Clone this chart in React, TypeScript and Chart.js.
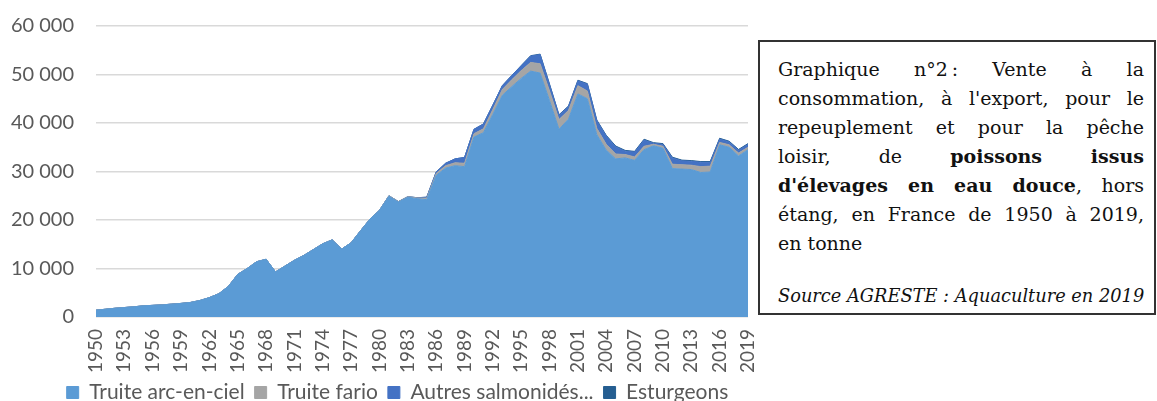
import React, { useEffect, useRef } from "react";
import { Chart, registerables } from "chart.js";

Chart.register(...registerables);

const years = [
  "1950", "1951", "1952", "1953", "1954", "1955", "1956", "1957", "1958", "1959",
  "1960", "1961", "1962", "1963", "1964", "1965", "1966", "1967", "1968", "1969",
  "1970", "1971", "1972", "1973", "1974", "1975", "1976", "1977", "1978", "1979",
  "1980", "1981", "1982", "1983", "1984", "1985", "1986", "1987", "1988", "1989",
  "1990", "1991", "1992", "1993", "1994", "1995", "1996", "1997", "1998", "1999",
  "2000", "2001", "2002", "2003", "2004", "2005", "2006", "2007", "2008", "2009",
  "2010", "2011", "2012", "2013", "2014", "2015", "2016", "2017", "2018", "2019",
];

const shownYears = [
  "1950", "1953", "1956", "1959", "1962", "1965", "1968", "1971", "1974", "1977",
  "1980", "1983", "1986", "1989", "1992", "1995", "1998", "2001", "2004", "2007",
  "2010", "2013", "2016", "2019",
];

const truiteArcEnCiel = [
  1400, 1600, 1800, 1950, 2100, 2300, 2400, 2500, 2650, 2800,
  3000, 3400, 4000, 4800, 6300, 8800, 10000, 11400, 11900, 9300,
  10500, 11700, 12700, 13900, 15100, 15900, 14000, 15300, 17800, 20200,
  22000, 24900, 23700, 24700, 24400, 24200, 29200, 30700, 31200, 31000,
  37100, 38000, 41800, 45700, 47500, 49200, 50700, 50300, 44600, 38700,
  40800, 46000, 45000, 37600, 34400, 32600, 32800, 32300, 34500, 35300,
  34800, 30600, 30500, 30400, 29800, 29900, 35500, 35000, 33200, 34500,
];

const truiteFario = [
  0, 0, 0, 0, 0, 0, 0, 0, 0, 0,
  0, 0, 0, 0, 0, 0, 0, 0, 0, 0,
  0, 0, 0, 0, 0, 0, 0, 0, 0, 0,
  0, 100, 100, 100, 150, 300, 400, 500, 600, 700,
  700, 800, 1000, 1200, 1400, 1600, 1800, 1900, 2000, 2000,
  1800, 1700, 1600, 1300, 1200, 1000, 700, 700, 700, 300,
  400, 900, 900, 900, 1200, 1200, 500, 500, 600, 500,
];

const autresSalmonides = [
  0, 0, 0, 0, 0, 0, 0, 0, 0, 0,
  0, 0, 0, 0, 0, 0, 0, 0, 0, 0,
  0, 0, 0, 0, 0, 0, 0, 0, 0, 0,
  0, 0, 0, 0, 50, 200, 300, 500, 800, 1200,
  900, 1000, 900, 800, 900, 1000, 1300, 1900, 1300, 900,
  800, 1000, 1400, 1600, 1700, 1500, 700, 1000, 1300, 200,
  400, 1300, 800, 800, 900, 800, 700, 600, 600, 600,
];

const esturgeons = [
  0, 0, 0, 0, 0, 0, 0, 0, 0, 0,
  0, 0, 0, 0, 0, 0, 0, 0, 0, 0,
  0, 0, 0, 0, 0, 0, 0, 0, 0, 0,
  0, 0, 0, 0, 0, 0, 0, 0, 0, 0,
  0, 0, 0, 0, 0, 50, 80, 100, 100, 100,
  100, 120, 120, 120, 150, 150, 150, 150, 150, 150,
  150, 150, 150, 150, 150, 150, 150, 150, 150, 150,
];

const seriesLabels = ["Truite arc-en-ciel", "Truite fario", "Autres salmonidés...", "Esturgeons"];
const seriesColors = ["#5B9BD5", "#A5A5A5", "#4472C4", "#255E91"];

const yMin = 0;
const yMax = 60000;
const yStep = 10000;

function formatThousands(v: number): string {
  return String(v).replace(/\B(?=(\d{3})+(?!\d))/g, " ");
}

function ChartView() {
  const ref = useRef<HTMLCanvasElement | null>(null);
  useEffect(() => {
    if (!ref.current) return;
    const series = [truiteArcEnCiel, truiteFario, autresSalmonides, esturgeons];
    const chart = new Chart(ref.current, {
      type: "line",
      data: {
        labels: years,
        datasets: series.map((d, i) => ({
          label: seriesLabels[i],
          data: d,
          backgroundColor: seriesColors[i],
          borderColor: seriesColors[i],
          borderWidth: 1,
          pointRadius: 0,
          tension: 0,
          fill: i === 0 ? "origin" : "-1",
        })),
      },
      options: {
        animation: false,
        responsive: false,
        maintainAspectRatio: false,
        layout: { padding: { top: 26, left: 0, right: 0, bottom: 0 } },
        plugins: {
          tooltip: { enabled: false },
          legend: {
            position: "bottom",
            labels: {
              boxWidth: 12,
              boxHeight: 12,
              padding: 10,
              color: "#595959",
              font: { family: "Lato", size: 21 },
            },
          },
        },
        scales: {
          x: {
            grid: { display: false, drawTicks: false },
            border: { display: false },
            ticks: {
              autoSkip: false,
              maxRotation: 90,
              minRotation: 90,
              padding: 12,
              color: "#595959",
              font: { family: "Lato", size: 19 },
              callback: function (this: any, value: any, index: number) {
                const lab = years[index];
                return shownYears.includes(lab) ? lab : "";
              },
            },
            afterFit: (s: any) => {
              s.height = 55;
            },
          },
          y: {
            stacked: true,
            min: yMin,
            max: yMax,
            grid: { color: "#D9D9D9", lineWidth: 1.5, drawTicks: false },
            border: { display: false },
            ticks: {
              stepSize: yStep,
              padding: 22,
              color: "#595959",
              font: { family: "Lato", size: 20 },
              callback: (v: any) => formatThousands(Number(v)),
            },
            afterFit: (s: any) => {
              s.width = 96;
              s.paddingTop = 0;
              s.paddingBottom = 0;
            },
          },
          yRight: {
            position: "right",
            display: true,
            grid: { display: false, drawTicks: false },
            border: { display: false },
            ticks: { display: false },
            afterFit: (s: any) => {
              s.width = 47;
              s.paddingTop = 0;
              s.paddingBottom = 0;
            },
          },
        },
      },
    });
    return () => chart.destroy();
  }, []);
  return (
    <canvas
      ref={ref}
      width={795}
      height={413}
      style={{ position: "absolute", left: 0, top: 0, width: 795, height: 413 }}
    />
  );
}

const lineStyle: React.CSSProperties = {
  textAlign: "justify",
  textAlignLast: "justify" as any,
  whiteSpace: "nowrap",
  height: 29,
  lineHeight: "29px",
};

function TextBox() {
  return (
    <div
      style={{
        position: "absolute",
        left: 758,
        top: 40,
        width: 398,
        height: 275,
        boxSizing: "border-box",
        border: "2px solid #333",
        background: "#fff",
        fontFamily: '"DejaVu Serif", serif',
        fontSize: 19,
        color: "#111",
        paddingLeft: 18,
        paddingRight: 10,
        paddingTop: 13,
      }}
    >
      <div style={lineStyle}>Graphique n°2{"\u202F"}: Vente à la</div>
      <div style={lineStyle}>consommation, à l'export, pour le</div>
      <div style={lineStyle}>repeuplement et pour la pêche</div>
      <div style={lineStyle}>
        loisir, de <b>poissons issus</b>
      </div>
      <div style={lineStyle}>
        <b>d'élevages en eau douce</b>, hors
      </div>
      <div style={lineStyle}>étang, en France de 1950 à 2019,</div>
      <div style={{ ...lineStyle, textAlignLast: "left" as any }}>en tonne</div>
      <div
        style={{
          marginTop: 23,
          fontStyle: "italic",
          fontSize: 17.8,
          lineHeight: "29px",
          whiteSpace: "nowrap",
        }}
      >
        Source AGRESTE : Aquaculture en 2019
      </div>
    </div>
  );
}

export default function App() {
  return (
    <div style={{ position: "absolute", left: 0, top: 0, width: 1157, height: 401, overflow: "hidden", background: "#fff" }}>
      <ChartView />
      <TextBox />
    </div>
  );
}
